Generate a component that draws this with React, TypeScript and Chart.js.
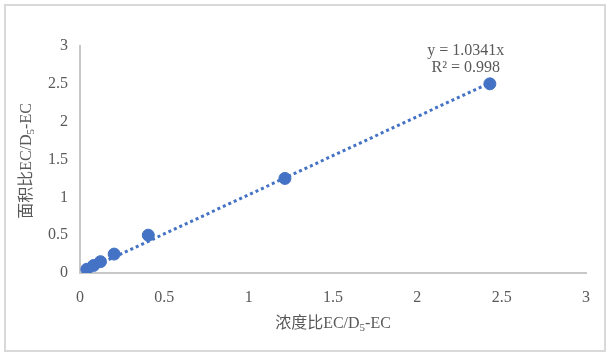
import React, { useEffect, useRef } from "react";
import { Chart, registerables } from "chart.js";

Chart.register(...registerables);

const concentrationRatio = [0.0405, 0.081, 0.1215, 0.2025, 0.405, 1.215, 2.43];
const areaRatio = [0.05, 0.1, 0.15, 0.25, 0.5, 1.25, 2.5];
const slope = 1.0341;
const rSquared = "0.998";
const xTitleParts = [
  { t: "浓度比EC/D", sub: false },
  { t: "5", sub: true },
  { t: "-EC", sub: false },
];
const yTitleParts = [
  { t: "面积比EC/D", sub: false },
  { t: "5", sub: true },
  { t: "-EC", sub: false },
];

const FONT = "'Liberation Serif', 'Times New Roman', 'Noto Sans CJK SC', serif";
const TEXT = "#595959";
const BLUE = "#4472c4";

function drawParts(ctx: CanvasRenderingContext2D, parts: { t: string; sub: boolean }[], cx: number, cy: number) {
  const main = `16px ${FONT}`;
  const sub = `11px ${FONT}`;
  let total = 0;
  const widths = parts.map((p) => {
    ctx.font = p.sub ? sub : main;
    const w = ctx.measureText(p.t).width;
    total += w;
    return w;
  });
  let x = cx - total / 2;
  ctx.textBaseline = "middle";
  ctx.textAlign = "left";
  ctx.fillStyle = TEXT;
  parts.forEach((p, i) => {
    ctx.font = p.sub ? sub : main;
    ctx.fillText(p.t, x, p.sub ? cy + 4 : cy);
    x += widths[i];
  });
}

const decorPlugin = {
  id: "decor",
  beforeDraw(chart: any) {
    const ctx = chart.ctx as CanvasRenderingContext2D;
    ctx.save();
    ctx.fillStyle = "#ffffff";
    ctx.fillRect(0, 0, chart.width, chart.height);
    ctx.strokeStyle = "#d9d9d9";
    ctx.lineWidth = 2;
    ctx.strokeRect(5, 5, 600, 346);
    ctx.restore();
  },
  afterDraw(chart: any) {
    const ctx = chart.ctx as CanvasRenderingContext2D;
    const xs = chart.scales.x;
    const ys = chart.scales.y;
    ctx.save();
    drawParts(ctx, xTitleParts, (xs.left + xs.right) / 2, 324);
    ctx.save();
    ctx.translate(27, 161);
    ctx.rotate(-Math.PI / 2);
    drawParts(ctx, yTitleParts, 0, 0);
    ctx.restore();
    // trendline label
    const lx = xs.getPixelForValue(concentrationRatio[concentrationRatio.length - 1]) - 24;
    const ly = ys.getPixelForValue(areaRatio[areaRatio.length - 1]);
    ctx.font = `16px ${FONT}`;
    ctx.fillStyle = TEXT;
    ctx.textAlign = "center";
    ctx.textBaseline = "middle";
    ctx.fillText(`y = ${slope}x`, lx, ly - 33);
    ctx.fillText(`R² = ${rSquared}`, lx, ly - 16);
    ctx.restore();
  },
};

const fmt = (v: any) => String(Number(v));

export default function App() {
  const ref = useRef<HTMLCanvasElement>(null);
  useEffect(() => {
    if (!ref.current) return;
    const xMin = concentrationRatio[0];
    const xMax = concentrationRatio[concentrationRatio.length - 1];
    const chart = new Chart(ref.current, {
      type: "scatter",
      data: {
        datasets: [
          {
            label: "data",
            data: concentrationRatio.map((x, i) => ({ x, y: areaRatio[i] })),
            backgroundColor: BLUE,
            borderColor: BLUE,
            pointRadius: 6,
            pointHoverRadius: 6,
            order: 1,
          },
          {
            label: "trend",
            type: "line",
            data: [
              { x: xMin, y: slope * xMin },
              { x: xMax, y: slope * xMax },
            ],
            borderColor: BLUE,
            borderWidth: 3,
            borderDash: [3, 3],
            pointRadius: 0,
            fill: false,
            order: 2,
          } as any,
        ],
      },
      options: {
        animation: false,
        responsive: true,
        maintainAspectRatio: false,
        layout: { padding: { top: 46, right: 25, left: 0, bottom: 0 } },
        plugins: { legend: { display: false }, tooltip: { enabled: false } },
        scales: {
          x: {
            type: "linear",
            min: 0,
            max: 3,
            afterFit: (s: any) => {
              s.height = 83;
            },
            ticks: { stepSize: 0.5, color: TEXT, font: { family: FONT, size: 16 }, padding: 15, callback: fmt },
            grid: { display: false, drawTicks: false },
            border: { color: "#c8c8c8", width: 2 },
          },
          y: {
            type: "linear",
            min: 0,
            max: 3,
            afterFit: (s: any) => {
              s.width = 80;
            },
            ticks: { stepSize: 0.5, color: TEXT, font: { family: FONT, size: 16 }, padding: 12, callback: fmt },
            grid: { display: false, drawTicks: false },
            border: { color: "#c8c8c8", width: 2 },
          },
        },
      },
      plugins: [decorPlugin],
    });
    return () => chart.destroy();
  }, []);
  return (
    <div style={{ position: "fixed", left: 0, top: 0, width: 611, height: 356 }}>
      <canvas ref={ref} />
    </div>
  );
}
